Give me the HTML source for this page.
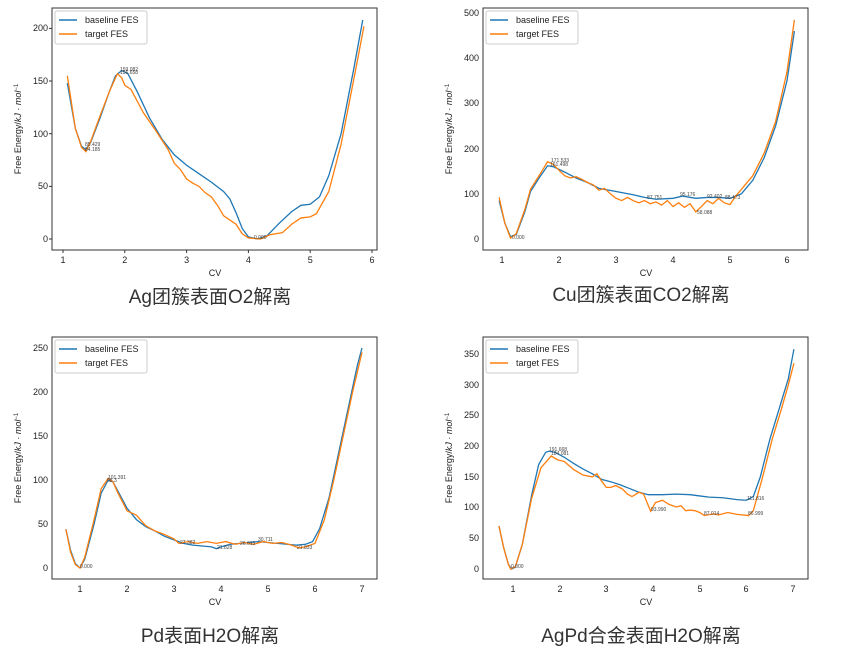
<!DOCTYPE html>
<html><head><meta charset="utf-8"><style>
body{margin:0;background:#fff;width:851px;height:651px;overflow:hidden}
svg{display:block}
text{font-family:"Liberation Sans","DejaVu Sans",sans-serif;fill:#222}
.t{font-size:9px}
.ti{font-family:"Liberation Sans","Noto Sans CJK SC",sans-serif;font-size:19px;fill:#333}
.b{fill:none;stroke:#1f77b4;stroke-width:1.3;vector-effect:non-scaling-stroke}
.o{fill:none;stroke:#ff7f0e;stroke-width:1.3;vector-effect:non-scaling-stroke}
.a{font-size:5px;fill:#444}
.leg{font-size:9px}
</style></head><body>
<svg width="851" height="651" viewBox="0 0 851 651">
<!-- Panel 1 -->
<g>
<g transform="matrix(61.8 0 0 -1.053 1.2 239)">
<polyline class="b" points="1.07,148 1.2,105 1.3,88 1.37,85 1.45,92 1.6,115 1.75,140 1.85,155 1.95,160 2.05,157 2.2,140 2.4,115 2.6,95 2.8,80 3.0,70 3.2,62 3.4,54 3.6,45 3.7,38 3.8,25 3.9,10 4.0,2 4.15,0 4.3,3 4.5,15 4.7,26 4.85,32 5.0,33 5.15,40 5.3,60 5.5,100 5.7,160 5.85,208"/>
<polyline class="o" points="1.07,155 1.2,105 1.3,87 1.37,83 1.45,93 1.6,117 1.75,140 1.88,157 1.95,153 2.0,146 2.1,142 2.3,120 2.5,103 2.7,85 2.8,72 2.9,66 3.0,57 3.1,53 3.2,50 3.3,44 3.4,40 3.5,32 3.6,22 3.7,18 3.8,14 3.9,5 4.0,1 4.2,0 4.35,4 4.55,6 4.7,14 4.85,20 5.0,21 5.1,24 5.3,45 5.5,90 5.7,150 5.87,202"/>
</g>
<rect x="52" y="8" width="325" height="242" fill="none" stroke="#333" stroke-width="1"/>
<g class="t" text-anchor="end"><text x="48" y="242">0</text><text x="48" y="189">50</text><text x="48" y="137">100</text><text x="48" y="84">150</text><text x="48" y="31">200</text></g>
<g stroke="#333"><line x1="49" x2="52" y1="239" y2="239"/><line x1="49" x2="52" y1="186.4" y2="186.4"/><line x1="49" x2="52" y1="133.7" y2="133.7"/><line x1="49" x2="52" y1="81" y2="81"/><line x1="49" x2="52" y1="28.4" y2="28.4"/>
<line x1="63" x2="63" y1="250" y2="253"/><line x1="124.8" x2="124.8" y1="250" y2="253"/><line x1="186.6" x2="186.6" y1="250" y2="253"/><line x1="248.4" x2="248.4" y1="250" y2="253"/><line x1="310.2" x2="310.2" y1="250" y2="253"/><line x1="372" x2="372" y1="250" y2="253"/></g>
<g class="t" text-anchor="middle"><text x="63" y="263">1</text><text x="124.8" y="263">2</text><text x="186.6" y="263">3</text><text x="248.4" y="263">4</text><text x="310.2" y="263">5</text><text x="372" y="263">6</text><text x="215" y="276">CV</text></g>
<text class="t" transform="translate(21,129) rotate(-90)" text-anchor="middle" font-size="8.5">Free Energy/<tspan font-style="italic">kJ · mol</tspan><tspan font-size="6" dy="-3">−1</tspan></text>
<text class="a" x="85" y="146">85.429</text><text class="a" x="85" y="151">84.185</text><text class="a" x="120" y="71">159.082</text><text class="a" x="120" y="74">156.658</text><text class="a" x="254" y="239">0.000</text>
<rect x="55" y="11" width="92" height="33" fill="#fff" stroke="#ccc" rx="2"/>
<line x1="59" x2="77" y1="20" y2="20" stroke="#1f77b4" stroke-width="1.5"/><text class="leg" x="85" y="23">baseline FES</text>
<line x1="59" x2="77" y1="34" y2="34" stroke="#ff7f0e" stroke-width="1.5"/><text class="leg" x="85" y="37">target FES</text>
<text class="ti" x="210" y="303" text-anchor="middle">Ag团簇表面O2解离</text>
</g>
<!-- Panel 2 -->
<g>
<g transform="matrix(57 0 0 -0.452 445 239)">
<polyline class="b" points="0.95,85 1.05,35 1.15,5 1.25,10 1.4,60 1.5,105 1.65,135 1.8,162 1.9,160 2.1,148 2.3,135 2.5,125 2.7,112 3.0,105 3.3,98 3.5,92 3.7,88 4.0,90 4.17,95 4.4,90 4.6,92 4.8,92 5.0,90 5.2,100 5.4,130 5.6,180 5.8,250 6.0,350 6.13,460"/>
<polyline class="o" points="0.95,92 1.05,35 1.15,2 1.25,12 1.4,65 1.5,110 1.65,140 1.8,171 1.9,165 2.0,152 2.1,140 2.2,135 2.3,138 2.4,132 2.5,125 2.6,120 2.7,108 2.8,112 2.9,100 3.0,90 3.1,85 3.2,92 3.3,85 3.4,80 3.5,85 3.6,78 3.7,82 3.8,75 3.9,85 4.0,72 4.1,80 4.2,70 4.3,78 4.4,60 4.5,72 4.6,85 4.7,78 4.8,90 4.9,80 5.0,76 5.1,95 5.2,110 5.4,140 5.6,190 5.8,260 6.0,370 6.13,485"/>
</g>
<rect x="483" y="8" width="325" height="242" fill="none" stroke="#333"/>
<g class="t" text-anchor="end"><text x="479" y="242">0</text><text x="479" y="197">100</text><text x="479" y="152">200</text><text x="479" y="106">300</text><text x="479" y="61">400</text><text x="479" y="16">500</text></g>
<g class="t" text-anchor="middle"><text x="502" y="263">1</text><text x="559" y="263">2</text><text x="616" y="263">3</text><text x="673" y="263">4</text><text x="730" y="263">5</text><text x="787" y="263">6</text><text x="646" y="276">CV</text></g>
<text class="t" transform="translate(452,129) rotate(-90)" text-anchor="middle" font-size="8.5">Free Energy/<tspan font-style="italic">kJ · mol</tspan><tspan font-size="6" dy="-3">−1</tspan></text>
<text class="a" x="551" y="162">171.533</text><text class="a" x="550" y="166">161.498</text><text class="a" x="512" y="239">0.000</text><text class="a" x="647" y="199">87.751</text><text class="a" x="680" y="196">95.176</text><text class="a" x="697" y="214">58.088</text><text class="a" x="707" y="198">92.402</text><text class="a" x="725" y="199">88.473</text>
<rect x="486" y="11" width="92" height="33" fill="#fff" stroke="#ccc" rx="2"/>
<line x1="490" x2="508" y1="20" y2="20" stroke="#1f77b4" stroke-width="1.5"/><text class="leg" x="516" y="23">baseline FES</text>
<line x1="490" x2="508" y1="34" y2="34" stroke="#ff7f0e" stroke-width="1.5"/><text class="leg" x="516" y="37">target FES</text>
<text class="ti" x="641" y="301" text-anchor="middle">Cu团簇表面CO2解离</text>
</g>
<!-- Panel 3 -->
<g>
<g transform="matrix(47 0 0 -0.88 33 568)">
<polyline class="b" points="0.7,44 0.8,20 0.9,5 1.0,0 1.1,10 1.3,50 1.45,85 1.6,100 1.7,98 1.8,88 2.0,68 2.2,55 2.4,47 2.6,42 2.8,36 3.0,32 3.2,28 3.4,26 3.6,25 3.8,24 3.9,22 4.0,24 4.2,27 4.4,28 4.6,29 4.8,30 5.0,29 5.2,28 5.4,27 5.6,26 5.8,27 5.95,30 6.1,45 6.3,80 6.5,130 6.7,180 6.9,230 7.0,250"/>
<polyline class="o" points="0.7,44 0.8,18 0.9,4 1.0,0 1.1,12 1.3,55 1.45,90 1.6,102 1.7,98 1.8,86 2.0,65 2.2,60 2.4,48 2.6,42 2.8,38 3.0,33 3.1,28 3.3,30 3.5,28 3.7,30 3.9,28 4.1,30 4.3,27 4.5,29 4.7,27 4.9,30 5.1,28 5.3,29 5.5,26 5.65,23 5.8,24 6.0,28 6.2,55 6.4,100 6.6,150 6.8,200 7.0,245"/>
</g>
<rect x="52" y="337" width="325" height="242" fill="none" stroke="#333"/>
<g class="t" text-anchor="end"><text x="48" y="571">0</text><text x="48" y="527">50</text><text x="48" y="483">100</text><text x="48" y="439">150</text><text x="48" y="395">200</text><text x="48" y="351">250</text></g>
<g class="t" text-anchor="middle"><text x="80" y="592">1</text><text x="127" y="592">2</text><text x="174" y="592">3</text><text x="221" y="592">4</text><text x="268" y="592">5</text><text x="315" y="592">6</text><text x="362" y="592">7</text><text x="215" y="605">CV</text></g>
<text class="t" transform="translate(21,458) rotate(-90)" text-anchor="middle" font-size="8.5">Free Energy/<tspan font-style="italic">kJ · mol</tspan><tspan font-size="6" dy="-3">−1</tspan></text>
<text class="a" x="108" y="479">101.391</text><text class="a" x="107" y="482">98.3</text><text class="a" x="80" y="568">0.000</text><text class="a" x="180" y="544">27.382</text><text class="a" x="217" y="549">21.828</text><text class="a" x="240" y="545">26.613</text><text class="a" x="258" y="541">30.711</text><text class="a" x="297" y="549">21.833</text>
<rect x="55" y="340" width="92" height="33" fill="#fff" stroke="#ccc" rx="2"/>
<line x1="59" x2="77" y1="349" y2="349" stroke="#1f77b4" stroke-width="1.5"/><text class="leg" x="85" y="352">baseline FES</text>
<line x1="59" x2="77" y1="363" y2="363" stroke="#ff7f0e" stroke-width="1.5"/><text class="leg" x="85" y="366">target FES</text>
<text class="ti" x="210" y="642" text-anchor="middle">Pd表面H2O解离</text>
</g>
<!-- Panel 4 -->
<g>
<g transform="matrix(46.67 0 0 -0.614 466.3 569)">
<polyline class="b" points="0.7,70 0.8,35 0.9,8 0.97,0 1.05,3 1.2,40 1.4,120 1.55,170 1.7,190 1.77,192 1.9,190 2.1,182 2.3,172 2.5,163 2.7,155 2.9,146 3.1,142 3.3,137 3.5,131 3.7,125 3.9,121 4.2,121 4.5,122 4.8,121 5.0,119 5.2,117 5.5,116 5.8,113 6.0,112 6.15,118 6.3,150 6.5,210 6.7,260 6.9,310 7.02,358"/>
<polyline class="o" points="0.7,70 0.8,35 0.9,8 0.95,0 1.05,4 1.2,40 1.4,115 1.6,165 1.82,184 1.95,178 2.1,175 2.3,162 2.5,153 2.7,150 2.8,155 2.9,143 3.0,133 3.1,133 3.2,136 3.35,130 3.45,122 3.55,118 3.7,125 3.8,122 3.95,94 4.05,108 4.2,112 4.35,105 4.5,101 4.6,103 4.7,95 4.8,96 4.9,95 5.0,92 5.1,87 5.3,90 5.4,88 5.6,92 5.8,89 6.05,87 6.15,95 6.35,150 6.55,210 6.75,260 6.9,300 7.02,335"/>
</g>
<rect x="483" y="337" width="325" height="242" fill="none" stroke="#333"/>
<g class="t" text-anchor="end"><text x="479" y="572">0</text><text x="479" y="541">50</text><text x="479" y="510">100</text><text x="479" y="480">150</text><text x="479" y="449">200</text><text x="479" y="418">250</text><text x="479" y="388">300</text><text x="479" y="357">350</text></g>
<g class="t" text-anchor="middle"><text x="513" y="592">1</text><text x="560" y="592">2</text><text x="606" y="592">3</text><text x="653" y="592">4</text><text x="700" y="592">5</text><text x="746" y="592">6</text><text x="793" y="592">7</text><text x="646" y="605">CV</text></g>
<text class="t" transform="translate(452,458) rotate(-90)" text-anchor="middle" font-size="8.5">Free Energy/<tspan font-style="italic">kJ · mol</tspan><tspan font-size="6" dy="-3">−1</tspan></text>
<text class="a" x="549" y="451">191.668</text><text class="a" x="551" y="455">184.081</text><text class="a" x="511" y="568">0.000</text><text class="a" x="651" y="511">93.990</text><text class="a" x="704" y="515">87.014</text><text class="a" x="747" y="500">111.816</text><text class="a" x="748" y="515">86.999</text>
<rect x="486" y="340" width="92" height="33" fill="#fff" stroke="#ccc" rx="2"/>
<line x1="490" x2="508" y1="349" y2="349" stroke="#1f77b4" stroke-width="1.5"/><text class="leg" x="516" y="352">baseline FES</text>
<line x1="490" x2="508" y1="363" y2="363" stroke="#ff7f0e" stroke-width="1.5"/><text class="leg" x="516" y="366">target FES</text>
<text class="ti" x="641" y="642" text-anchor="middle">AgPd合金表面H2O解离</text>
</g>
</svg>
</body></html>
